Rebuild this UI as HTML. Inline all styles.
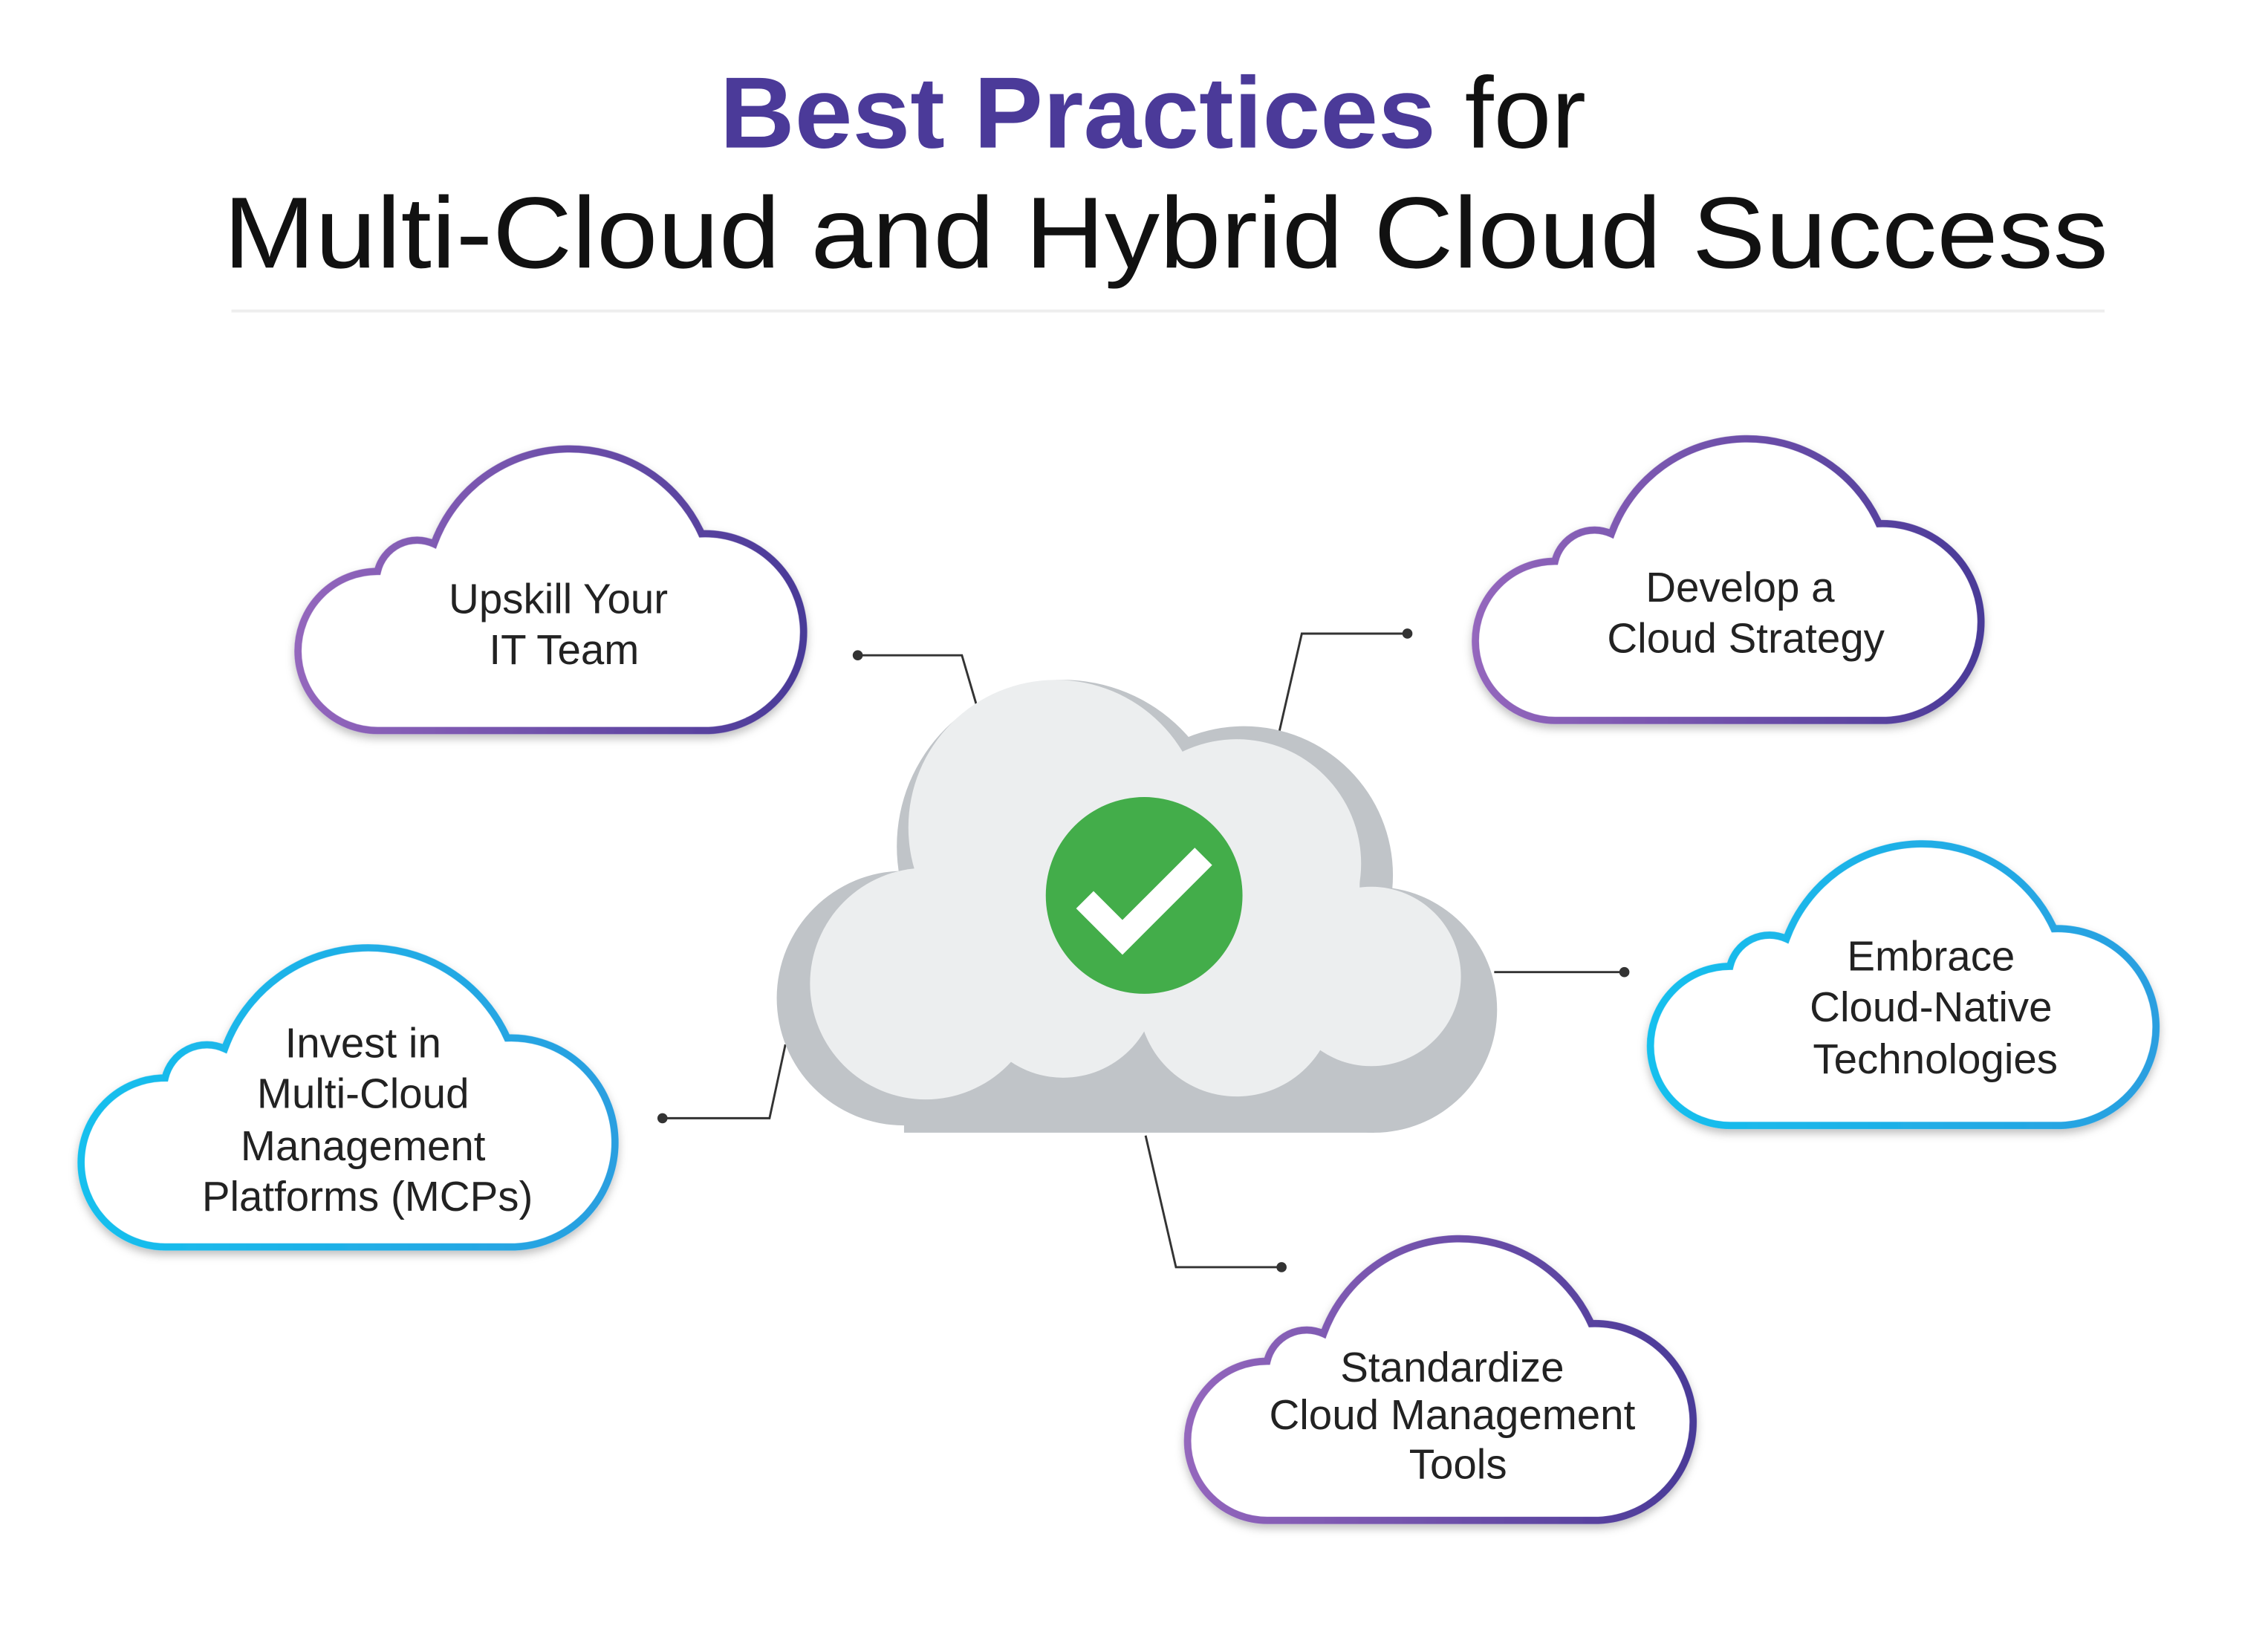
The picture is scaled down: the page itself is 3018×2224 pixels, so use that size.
<!DOCTYPE html>
<html><head><meta charset="utf-8"><style>
html,body{margin:0;padding:0;background:#fff;}
svg{display:block;}
text{font-family:"Liberation Sans",sans-serif;}
</style></head><body>
<svg width="3018" height="2224" viewBox="0 0 1550 1142" preserveAspectRatio="none" xmlns="http://www.w3.org/2000/svg">
<defs>
<linearGradient id="gp" x1="0" y1="0" x2="1" y2="0"><stop offset="0" stop-color="#9467bd"/><stop offset="1" stop-color="#4a3a98"/></linearGradient>
<linearGradient id="gc" x1="0" y1="0" x2="1" y2="0"><stop offset="0" stop-color="#16c0ee"/><stop offset="1" stop-color="#2a9fe0"/></linearGradient>
<filter id="sh" x="-10%" y="-10%" width="120%" height="130%"><feDropShadow dx="0" dy="3" stdDeviation="3" flood-color="#000" flood-opacity="0.25"/></filter>
<path id="cl" d="M56,193 A55,55 0 0 1 56,83 A28,28 0 0 1 95,64 A100,100 0 0 1 280,57 A68,68 0 0 1 285,193 Z"/>
</defs>
<text x="797" y="102" text-anchor="middle" font-size="70" textLength="599" lengthAdjust="spacingAndGlyphs"><tspan font-weight="bold" fill="#4b3a99">Best Practices</tspan><tspan fill="#111"> for</tspan></text>
<text x="806" y="185" text-anchor="middle" font-size="70" fill="#111" textLength="1303" lengthAdjust="spacingAndGlyphs">Multi-Cloud and Hybrid Cloud Success</text>
<line x1="160" y1="215" x2="1455" y2="215" stroke="#eee" stroke-width="2"/>

<g fill="#fff" stroke-width="5" filter="url(#sh)">
<use href="#cl" transform="translate(205,312)" stroke="url(#gp)"/>
<use href="#cl" transform="translate(1019,305)" stroke="url(#gp)"/>
<use href="#cl" transform="translate(1140,585)" stroke="url(#gc)"/>
<use href="#cl" transform="translate(55,657) scale(1.056,1.062)" stroke="url(#gc)" stroke-width="4.7"/>
<use href="#cl" transform="translate(820,858)" stroke="url(#gp)"/>
</g>

<g stroke="#333" stroke-width="1.5" fill="none">
<polyline points="593,453 665,453 675,487"/>
<polyline points="973,438 900,438 883,512"/>
<polyline points="1123,672 1033,672"/>
<polyline points="458,773 532,773 543,722"/>
<polyline points="886,876 813,876 792,785"/>
</g>
<g fill="#333">
<circle cx="593" cy="453" r="3.5"/><circle cx="973" cy="438" r="3.5"/><circle cx="1123" cy="672" r="3.5"/><circle cx="458" cy="773" r="3.5"/><circle cx="886" cy="876" r="3.5"/>
</g>

<g fill="#c0c4c8">
<circle cx="735" cy="585" r="115"/><circle cx="860" cy="605" r="103"/><circle cx="950" cy="698" r="85"/><circle cx="625" cy="690" r="88"/>
<rect x="625" y="640" width="325" height="143"/>
</g>
<g fill="#eceeef">
<circle cx="730" cy="572" r="102"/><circle cx="855" cy="597" r="86"/><circle cx="948" cy="675" r="62"/><circle cx="640" cy="680" r="80"/>
<circle cx="735" cy="680" r="65"/><circle cx="855" cy="690" r="68"/><rect x="640" y="600" width="300" height="80"/>
</g>
<circle cx="791" cy="619" r="68" fill="#43ad4a"/>
<path d="M750,622 L776,648 L832,592" stroke="#fff" stroke-width="17" fill="none"/>

<g font-size="29" fill="#222" text-anchor="middle">
<text x="386" y="424">Upskill Your</text><text x="390" y="459">IT Team</text>
<text x="1203" y="416">Develop a</text><text x="1207" y="451">Cloud Strategy</text>
<text x="1335" y="671">Embrace</text><text x="1335" y="706">Cloud-Native</text><text x="1338" y="742">Technologies</text>
<text x="251" y="731">Invest in</text><text x="251" y="766">Multi-Cloud</text><text x="251" y="802">Management</text><text x="254" y="837">Platforms (MCPs)</text>
<text x="1004" y="955">Standardize</text><text x="1004" y="988">Cloud Management</text><text x="1008" y="1022">Tools</text>
</g>
</svg>
</body></html>
